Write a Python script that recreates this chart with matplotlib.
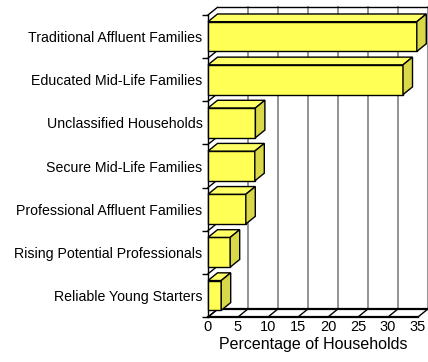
import matplotlib
matplotlib.use("Agg")
import matplotlib.pyplot as plt
from matplotlib.patches import Polygon

categories = ["Reliable Young Starters", "Rising Potential Professionals",
              "Professional Affluent Families", "Secure Mid-Life Families",
              "Unclassified Households", "Educated Mid-Life Families",
              "Traditional Affluent Families"]
values = [2.2, 3.7, 6.3, 7.8, 7.9, 32.5, 34.8]
xticks = [0, 5, 10, 15, 20, 25, 30, 35]
xlabel = "Percentage of Households"

plt.rcParams['font.family'] = ['Liberation Sans', 'DejaVu Sans']

W, H = 428, 362
fig = plt.figure(figsize=(W / 100, H / 100), dpi=100)
x0px, x1px = 208, 418
ytop, ybot = 15, 317
ax = fig.add_axes([x0px / W, (H - ybot) / H, (x1px - x0px) / W, (ybot - ytop) / H])
XMAX = 35
n = len(categories)
ax.set_xlim(0, XMAX)
ax.set_ylim(0, n)
for s in ax.spines.values():
    s.set_visible(False)

pxx = (x1px - x0px) / XMAX
pxy = (ybot - ytop) / n
DX = 9.5 / pxx
DY = 7.7 / pxy

# back wall
ax.add_patch(Polygon([(DX, DY), (XMAX + DX, DY), (XMAX + DX, n + DY), (DX, n + DY)],
                     closed=True, facecolor='white', edgecolor='none', clip_on=False, zorder=0))
for t in xticks[1:]:
    ax.plot([t + DX, t + DX], [DY, n + DY], color='#808080', lw=1.2, clip_on=False, zorder=1)
ax.plot([DX, XMAX + DX], [n + DY, n + DY], color='black', lw=1, clip_on=False, zorder=1)

# floor
ax.plot([0, XMAX], [0, 0], color='black', lw=1.6, clip_on=False, zorder=1)
ax.plot([DX, XMAX + DX], [DY, DY], color='black', lw=1.6, clip_on=False, zorder=1)
for t in xticks:
    ax.plot([t, t + DX], [0, DY], color='black', lw=1, clip_on=False, zorder=1)

# left wall
ax.plot([0, 0], [0, n], color='black', lw=1, clip_on=False, zorder=1)
for k in range(n + 1):
    ax.plot([0, DX], [k, k + DY], color='black', lw=1, clip_on=False, zorder=1)

# bars
bw = 0.69
front_c, top_c, side_c = '#ffff55', '#ffff66', '#d8d848'
for i, v in enumerate(values):
    y0 = i + 0.5 - bw / 2
    y1 = i + 0.5 + bw / 2
    ax.add_patch(Polygon([(0, y0), (v, y0), (v, y1), (0, y1)], closed=True,
                         facecolor=front_c, edgecolor='black', lw=1, clip_on=False, zorder=3))
    ax.add_patch(Polygon([(0, y1), (v, y1), (v + DX, y1 + DY), (DX, y1 + DY)], closed=True,
                         facecolor=top_c, edgecolor='black', lw=1, clip_on=False, zorder=3))
    ax.add_patch(Polygon([(v, y0), (v + DX, y0 + DY), (v + DX, y1 + DY), (v, y1)], closed=True,
                         facecolor=side_c, edgecolor='black', lw=1, clip_on=False, zorder=3))

# ticks
ax.set_yticks([i + 0.5 for i in range(n)])
ax.set_yticklabels(categories, fontsize=10.2)
ax.set_yticks(list(range(n + 1)), minor=True)
ax.tick_params(axis='y', which='major', length=0, pad=4)
ax.tick_params(axis='y', which='minor', length=4, width=1, direction='out')
ax.set_xticks(xticks)
ax.set_xticklabels([str(t) for t in xticks], fontsize=10.5)
ax.tick_params(axis='x', length=0, pad=2)
ax.set_xlabel(xlabel, fontsize=11.5, labelpad=2)

fig.savefig("out.png", dpi=100)
